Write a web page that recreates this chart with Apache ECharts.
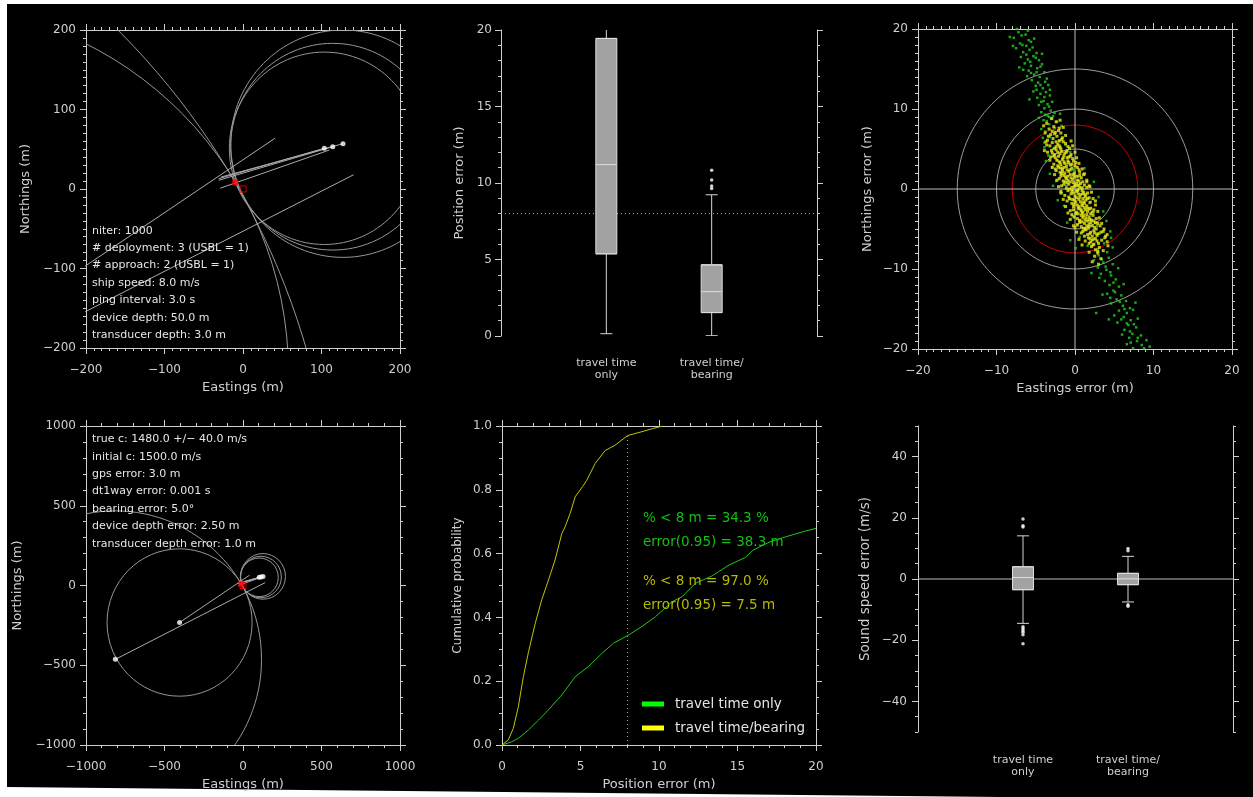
<!DOCTYPE html>
<html><head><meta charset="utf-8">
<script src="https://cdn.jsdelivr.net/npm/echarts@6/dist/echarts.min.js"></script>
<style>html,body{margin:0;padding:0;background:#fff}#c{width:1253px;height:797px}</style>
</head><body><div id="c"></div>
<script>
// ================= DATA =================
// ship (transducer) positions used in the solution, m
const shipE = [103.6, 114.3, 127.4, -404, -813];
const shipN = [51.2, 53.2, 57.0, -232, -463];
// horizontal range circles around each ship position (radius, m)
const rangeR = [121, 130, 143, 462, 931];
// bearing lines [E1, N1, E2, N2]
const bearingLines = [
  [-404, -232, 41, 64],
  [-813, -463, 141, 18],
  [103.6, 51.2, -31, 13],
  [114.3, 53.2, -31, 11],
  [127.4, 57.0, -28, 15],
  [110, 49, -29, 1]
];
const truePos = [0, 0];
const estPos = [-10, 8.4];
const deployText = ['niter: 1000', '# deployment: 3 (USBL = 1)', '# approach: 2 (USBL = 1)',
  'ship speed: 8.0 m/s', 'ping interval: 3.0 s', 'device depth: 50.0 m', 'transducer depth: 3.0 m'];
const errorText = ['true c: 1480.0 +/\u2212 40.0 m/s', 'initial c: 1500.0 m/s', 'gps error: 3.0 m',
  'dt1way error: 0.001 s', 'bearing error: 5.0\u00b0', 'device depth error: 2.50 m', 'transducer depth error: 1.0 m'];

// box plot categories
const boxCats = ['travel time\nonly', 'travel time/\nbearing'];
// position error box plot (m)
const posErrLow = [0.15, 0.02];
const posErrQ1 = [5.37, 1.53];
const posErrMed = [11.2, 2.9];
const posErrQ3 = [19.45, 4.65];
const posErrHigh = [24, 9.23];
const posErrOut = [[], [9.64, 9.81, 10.19, 10.84]];
// sound speed error box plot (m/s)
const ssErrLow = [-14.5, -7.5];
const ssErrQ1 = [-3.5, -1.85];
const ssErrMed = [0.5, 0.05];
const ssErrQ3 = [4.0, 1.85];
const ssErrHigh = [14.1, 7.4];
const ssErrOut = [[19.6, 17.4, 17.0, -15.6, -16.2, -16.8, -17.4, -18.2, -21.2], [10.0, 9.2, -8.4, -8.9]];

// position error scatter (Eastings error, Northings error), m — travel time only
const ttScatter = [
[-6.5,20.1],[-7.2,19.6],[-6.0,19.8],[-7.8,18.9],[-6.8,19.2],[-5.6,18.4],[-7.0,18.2],[-6.2,17.9],[-5.2,18.8],[-7.5,17.6],
[-6.6,17.1],[-5.8,17.4],[-4.9,17.0],[-6.9,16.5],[-6.0,16.2],[-5.3,16.6],[-4.6,16.1],[-6.4,15.7],[-5.6,15.4],[-4.8,15.1],
[-5.9,14.8],[-4.2,15.6],[-5.2,14.3],[-6.1,14.1],[-4.5,14.0],[-3.9,14.6],[-5.5,13.6],[-4.7,13.3],[-3.6,13.8],[-5.0,12.9],
[-4.1,12.6],[-3.4,13.0],[-5.3,12.2],[-4.4,11.9],[-3.7,12.1],[-4.8,11.4],[-3.2,11.7],[-4.0,11.0],[-3.5,10.6],[-4.6,10.5],
[-2.9,10.9],[-3.9,10.1],[-3.1,9.8],[-4.3,9.6],[-2.6,9.5],[-3.5,9.2],[-2.9,8.8],[-4.0,8.6],[-2.3,8.4],[-3.3,8.1],
[-8.3,19.0],[-5.1,20.3],[-4.2,16.9],[-7.1,15.2],[-3.2,12.4],[-5.8,11.2],
[-6.3,19.3],[-7.4,20.0],[-5.9,18.6],[-6.7,18.0],[-7.9,17.9],[-5.4,17.7],[-6.2,16.8],[-5.0,16.4],[-5.7,15.9],[-6.6,14.9],
[-4.4,15.3],[-4.9,14.6],[-5.6,14.5],[-3.8,13.4],[-4.4,13.0],[-4.9,12.4],[-3.9,11.5],[-4.3,10.9],[-3.3,10.3],[-3.8,9.3],
[-2.8,9.1],[-3.6,8.5],
[-2.6,7.6],[-3.8,7.2],[-1.7,7.9],[-3.2,6.5],[-2.0,6.1],[-3.9,5.8],[-1.2,5.5],[-2.8,5.0],[-3.4,4.2],[-0.6,4.6],
[-2.3,3.6],[-1.0,3.1],[-2.9,2.7],[-0.2,2.4],[-1.8,1.9],[0.4,1.5],[-2.4,1.0],[-1.1,0.4],[0.9,0.2],[-1.7,-0.5],
[1.4,-0.8],[-0.6,-1.3],[2.0,-1.6],[-1.4,-2.1],[0.8,-2.5],[2.4,-2.9],[-0.3,-3.4],[1.7,-3.8],[0.3,-4.4],[2.8,-4.6],
[1.1,-5.2],[3.1,-5.6],[0.6,-6.0],[2.2,-6.4],[3.7,-6.8],[1.6,-7.1],[2.9,-7.5],[4.1,-7.9],[-0.6,-6.4],[4.5,-5.3],
[-4.3,7.5],[-4.1,6.4],[-3.9,5.2],[-3.7,3.5],[-3.2,1.9],[-2.8,0.4],[1.2,2.6],[2.4,0.9],[3.0,-1.0],[3.6,-2.8],
[4.0,-4.0],[4.6,-6.1],[4.8,-7.3],[-2.2,-1.4],[-1.0,-4.2],[0.1,-7.4],[-3.3,9.0],[-1.9,9.4],[-4.6,8.9],
[3.0,-8.3],[4.3,-8.6],[2.4,-8.9],[3.6,-9.2],[4.8,-9.4],[2.9,-9.8],[4.0,-10.1],[3.3,-10.6],[4.6,-10.8],[5.2,-11.3],
[3.8,-11.5],[4.4,-12.0],[5.6,-12.2],[4.9,-12.7],[4.1,-13.1],[5.9,-13.3],[5.3,-13.8],[6.5,-14.0],[4.6,-14.3],[6.1,-14.6],
[7.0,-14.9],[5.6,-15.2],[6.6,-15.5],[7.4,-15.1],[6.2,-16.0],[7.1,-16.4],[5.4,-16.7],[6.8,-17.0],[7.8,-17.3],[6.3,-17.6],
[7.3,-18.1],[8.4,-18.3],[6.9,-18.6],[7.9,-19.0],[9.1,-18.9],[6.6,-19.4],[8.5,-19.5],[7.4,-19.9],[9.5,-19.7],[6.0,-18.2],
[3.5,-13.2],[5.0,-15.8],[8.0,-16.2],[2.1,-10.5],[5.5,-9.9],[6.2,-11.9],[4.3,-16.3],[7.7,-14.2],[2.7,-15.5],
[3.4,-8.8],[3.9,-9.7],[4.5,-10.4],[3.1,-11.1],[4.9,-11.7],[5.1,-12.9],[4.5,-13.6],[5.7,-14.1],[6.3,-15.0],[5.9,-16.3],
[6.6,-16.8],[7.5,-16.9],[7.0,-17.8],[8.0,-18.6],[7.1,-19.2],[8.8,-19.9]
];
// travel time/bearing
const tbScatter = [
[-3.0,8.8],[-2.4,8.4],[-3.6,8.2],[-1.9,8.6],
[-2.7,7.8],[-3.3,7.5],[-2.1,7.3],[-1.5,7.7],[-3.8,7.0],[-2.5,7.1],[-1.8,7.0],
[-3.1,6.8],[-2.3,6.6],[-1.6,6.4],[-2.8,6.3],[-3.5,6.1],[-1.2,6.7],[-2.0,6.0],[-2.6,6.9],
[-2.9,5.8],[-2.2,5.6],[-1.5,5.9],[-3.2,5.4],[-0.9,5.3],[-1.9,5.2],[-2.6,5.1],[-1.2,5.7],[-3.6,5.5],
[-2.4,4.9],[-1.7,4.7],[-1.0,4.8],[-2.9,4.5],[-0.5,4.3],[-1.4,4.2],[-2.1,4.1],[-3.1,4.0],[-0.8,4.0],[-1.9,4.4],
[-2.5,3.9],[-1.6,3.7],[-0.9,3.5],[-2.0,3.4],[-0.3,3.8],[-1.3,3.2],[-2.7,3.1],[-0.6,3.0],[-1.8,3.0],[0.1,3.3],
[-2.2,2.9],[-1.1,2.8],[-0.4,2.6],[-1.6,2.5],[0.3,2.7],[-2.4,2.3],[-0.8,2.2],[-1.3,2.0],[0.6,2.1],[-1.9,2.1],[-0.1,2.0],
[-1.7,1.9],[-0.6,1.8],[0.2,1.6],[-1.2,1.5],[-2.0,1.3],[0.8,1.4],[-0.3,1.2],[-0.9,1.1],[0.5,1.0],[-1.5,1.0],[1.1,1.8],
[-1.3,0.9],[-0.2,0.8],[0.7,0.7],[-0.8,0.6],[-1.7,0.4],[0.3,0.4],[1.2,0.5],[-0.4,0.2],[0.9,0.1],[-1.1,0.1],[0.0,0.5],[1.5,0.9],
[-0.9,-0.2],[0.2,-0.3],[1.1,-0.4],[-0.5,-0.6],[0.7,-0.7],[1.6,-0.5],[-1.3,-0.8],[0.0,-0.9],[1.3,-1.0],[0.4,-0.1],[-0.2,-0.5],
[-0.7,-1.2],[0.5,-1.3],[1.4,-1.4],[0.1,-1.6],[1.9,-1.7],[-0.4,-1.8],[0.9,-1.9],[1.6,-1.2],[-1.0,-1.5],[0.3,-2.0],
[-0.2,-2.2],[1.2,-2.3],[0.6,-2.5],[2.0,-2.4],[-0.6,-2.7],[1.6,-2.8],[0.2,-2.9],[2.4,-2.6],[1.0,-2.9],[0.9,-2.1],
[0.4,-3.1],[1.5,-3.2],[2.3,-3.3],[-0.1,-3.5],[1.0,-3.6],[2.7,-3.7],[0.6,-3.9],[1.9,-3.8],[-0.4,-3.2],[1.3,-3.9],
[0.9,-4.1],[2.0,-4.2],[2.9,-4.3],[0.3,-4.5],[1.5,-4.6],[2.5,-4.8],[1.1,-4.9],[3.2,-4.6],[0.6,-4.2],[1.8,-4.4],
[1.4,-5.1],[2.4,-5.2],[3.3,-5.4],[0.8,-5.5],[1.9,-5.6],[2.8,-5.8],[1.2,-5.9],[3.6,-5.3],[2.2,-5.9],
[1.7,-6.1],[2.6,-6.2],[3.4,-6.4],[2.0,-6.6],[3.0,-6.8],[1.3,-6.5],[3.8,-6.1],[2.4,-6.9],
[2.1,-7.2],[3.1,-7.3],[2.6,-7.6],[3.6,-7.7],[1.8,-7.9],[2.9,-8.0],
[2.5,-8.4],[3.3,-8.7],[2.2,-9.1],[3.0,-9.4],
[-4.0,7.9],[-3.9,4.8],[1.9,0.3],[-1.8,-0.3],[2.6,-1.5],[0.0,-4.8],[4.1,-5.7],[4.2,-7.1],
[-2.2,4.6],[-1.3,4.5],[-0.6,4.1],[-2.6,4.3],[-1.0,3.9],[-2.3,3.6],[-1.4,3.4],[-0.2,3.5],[-1.9,3.3],[-0.8,3.3],
[-2.1,2.7],[-1.4,2.7],[-0.6,2.4],[0.0,2.9],[-1.0,2.4],[-1.8,2.6],[0.5,2.4],[-1.4,1.7],[-0.9,1.6],[-0.1,1.5],
[0.6,1.7],[-1.8,1.6],[-0.5,1.4],[0.3,1.1],[-1.1,1.3],[-0.6,0.9],[0.2,0.7],[1.0,0.9],[-1.4,0.6],[-0.1,0.3],
[0.6,0.2],[-0.7,0.0],[1.5,0.2],[0.3,-0.2],[-0.4,-0.3],[0.9,-0.2],[1.3,-0.7],[-0.8,-1.0],[0.4,-0.6],[1.0,-1.2],
[0.2,-1.1],[-0.3,-1.3],[1.8,-1.1],[0.7,-1.6],[1.2,-1.8],[-0.1,-1.9],[1.5,-2.1],[0.4,-2.4],[1.8,-2.5],[-0.2,-2.6],
[0.8,-2.7],[2.2,-2.9],[1.3,-2.6],[0.1,-3.1],[1.1,-3.3],[1.8,-3.5],[0.8,-3.3],[2.1,-3.9],[0.3,-3.7],[1.6,-4.0],
[2.4,-4.0],[1.2,-4.3],[0.8,-4.7],[2.2,-4.6],[1.7,-4.9],[2.7,-5.0],[1.0,-5.3],[2.0,-5.4],[1.6,-5.7],[2.9,-5.6],
[2.3,-6.3],[1.8,-6.8],[-2.9,7.2],[-2.0,7.6],[-2.4,5.9],[-1.7,6.2],[-3.0,4.8],[-2.0,5.4],[-0.7,5.1],
[0.5,3.2],[0.9,2.5],[1.2,1.9],[1.5,1.1],[1.8,0.4],[2.1,-0.4],[2.3,-1.2],[2.6,-2.0],[2.9,-2.8],[3.1,-3.6],
[3.4,-4.3],[3.7,-5.0],[3.9,-5.9],[4.1,-6.6],[0.2,3.9],[0.0,4.6],[-0.3,5.4],[-0.5,6.0],
[-3.4,6.6],[-3.7,5.9],[-3.5,4.6],[-3.2,3.6],[-2.9,2.7],[-2.6,1.8],[-2.3,1.1],[-2.1,0.3],[-1.8,-0.5],[-1.5,-1.3],
[-1.2,-2.2],[-0.9,-3.0],[-0.6,-3.8],[-0.2,-4.6],[0.2,-5.4],[0.5,-6.3],[0.9,-7.0],
[-2.4,5.3],[-1.8,5.0],[-1.1,4.6],[-2.7,4.1],[-1.5,3.9],[-0.4,3.1],[-2.5,2.5],[-1.6,2.2],[-0.2,1.8],[-1.0,0.8],
[0.5,0.5],[-0.3,-0.1],[1.0,-0.6],[0.6,-1.0],[-0.1,-1.4],[1.1,-1.6],[0.5,-2.2],[1.6,-2.4],[0.9,-3.0],[2.0,-3.1],
[1.4,-3.6],[0.6,-4.0],[2.6,-4.2],[1.8,-4.7],[1.3,-5.0],[2.5,-5.5],[1.9,-6.2],[2.8,-6.5],[2.3,-7.0],[2.9,-7.8]
];
// reference error circles (radius, m)
const refRadii = [5, 10, 15];
const thresholdR = 8;

// cumulative distributions of position error
const cdfTTx = [0, 0.62, 1.04, 1.68, 2.32, 2.96, 3.81, 4.66, 5.51, 6.36, 7.1, 8.0, 8.9, 9.77, 10.83, 11.47, 12.32, 13.38, 14.45, 15.5, 16.0, 17.07, 18.1, 19.2, 20];
const cdfTTy = [0, 0.01, 0.021, 0.047, 0.078, 0.11, 0.157, 0.214, 0.246, 0.287, 0.319, 0.343, 0.371, 0.402, 0.449, 0.465, 0.507, 0.53, 0.564, 0.588, 0.611, 0.637, 0.653, 0.669, 0.679];
const cdfTBx = [0, 0.4, 0.72, 1.04, 1.36, 1.68, 2.11, 2.53, 2.96, 3.38, 3.81, 4.02, 4.34, 4.66, 5.13, 5.4, 5.94, 6.57, 7.21, 8.0, 8.9, 9.6, 10.25];
const cdfTBy = [0, 0.016, 0.052, 0.12, 0.214, 0.29, 0.38, 0.455, 0.517, 0.58, 0.663, 0.684, 0.726, 0.778, 0.81, 0.83, 0.883, 0.923, 0.94, 0.970, 0.982, 0.992, 1.0];
const errLimit = 8;
const cdfNotes = [['% < 8 m = 34.3 %', 'error(0.95) = 38.3 m'], ['% < 8 m = 97.0 %', 'error(0.95) = 7.5 m']];
const legendNames = ['travel time only', 'travel time/bearing'];

// ================= CHART =================
const AX = '#cfcfcf';
const FONT = 'DejaVu Sans';
const GREEN = '#1cc81c', YELLOW = '#c4c400';
const fmt = (v, d) => (d == null ? String(v) : v.toFixed(d)).replace('-', '\u2212');
const ls = () => ({color: AX, width: 1});

const grids = [
  {left: 86, top: 30, width: 314, height: 318},
  {left: 501, top: 30, width: 316, height: 306},
  {left: 918, top: 29, width: 314, height: 320},
  {left: 86, top: 426, width: 314, height: 319},
  {left: 502, top: 426, width: 314, height: 319},
  {left: 918, top: 426, width: 315, height: 306}
];
const xAxes = [], yAxes = [];
const base = {type: 'value', splitLine: {show: false}, minorSplitLine: {show: false}};
function addX(o) { xAxes.push(Object.assign({}, base, o)); return xAxes.length - 1; }
function addY(o) { yAxes.push(Object.assign({}, base, o)); return yAxes.length - 1; }
function nameSt(fs) { return {color: AX, fontFamily: FONT, fontSize: fs}; }
function scale(r) {
  return {min: r[0], max: r[1], interval: r[2],
    axisLine: {show: true, onZero: false, lineStyle: ls()},
    axisTick: {show: true, length: 6, lineStyle: ls()},
    minorTick: {show: true, splitNumber: r[3], length: 3, lineStyle: ls()}};
}
function framed(g, xr, yr, xName, yName, yGap, yFs) {
  const xb = addX(Object.assign(scale(xr), {gridIndex: g, position: 'bottom', name: xName, nameLocation: 'middle', nameGap: 33,
    nameTextStyle: nameSt(13), axisLabel: {color: AX, fontFamily: FONT, fontSize: 12, margin: 16, formatter: v => fmt(v, xr[4])}}));
  addX(Object.assign(scale(xr), {gridIndex: g, position: 'top', axisLabel: {show: false}}));
  const yl = addY(Object.assign(scale(yr), {gridIndex: g, position: 'left', name: yName, nameLocation: 'middle', nameRotate: 90, nameGap: yGap,
    nameTextStyle: nameSt(yFs || 13), axisLabel: {color: AX, fontFamily: FONT, fontSize: 12, margin: 10, formatter: v => fmt(v, yr[4])}}));
  addY(Object.assign(scale(yr), {gridIndex: g, position: 'right', axisLabel: {show: false}}));
  return [xb, yl];
}
function catAxis(g, margin) {
  return addX({gridIndex: g, position: 'bottom', min: 0, max: 3, interval: 1, axisLine: {show: false}, axisTick: {show: false},
    minorTick: {show: false}, axisLabel: {color: AX, fontFamily: FONT, fontSize: 11, lineHeight: 12, margin: margin,
    formatter: v => boxCats[v - 1] || ''}});
}

// axes
const A0 = framed(0, [-200, 200, 100, 10], [-200, 200, 100, 10], 'Eastings (m)', 'Northings (m)', 54);
const A2 = framed(2, [-20, 20, 10, 10], [-20, 20, 10, 10], 'Eastings error (m)', 'Northings error (m)', 44);
const A3 = framed(3, [-1000, 1000, 500, 5], [-1000, 1000, 500, 5], 'Eastings (m)', 'Northings (m)', 62);
const A4 = framed(4, [0, 20, 5, 5], [0, 1, 0.2, 4, 1], 'Position error (m)', 'Cumulative probability', 38, 12);
// box plot panel 1
const x1 = catAxis(1, 21);
const y1 = addY(Object.assign(scale([0, 20, 5, 5]), {gridIndex: 1, position: 'left', name: 'Position error (m)', nameLocation: 'middle',
  nameRotate: 90, nameGap: 35, nameTextStyle: nameSt(13), axisLabel: {color: AX, fontFamily: FONT, fontSize: 12, margin: 9}}));
addY(Object.assign(scale([0, 20, 5, 5]), {gridIndex: 1, position: 'right', axisLabel: {show: false}}));
// box plot panel 2
const x5 = catAxis(5, 22);
const majorSS = [-40, -20, 0, 20, 40];
function ssAxis(pos, withLabel) {
  const o = {gridIndex: 5, position: pos, min: -50, max: 50, interval: 10,
    axisLine: {show: true, onZero: false, lineStyle: ls()},
    axisTick: {show: true, length: 6, customValues: majorSS, lineStyle: ls()},
    minorTick: {show: false},
    axisLabel: withLabel ? {color: AX, fontFamily: FONT, fontSize: 12, margin: 11,
      formatter: v => (majorSS.indexOf(v) >= 0 ? fmt(v) : '')} : {show: false}};
  if (withLabel) Object.assign(o, {name: 'Sound speed error (m/s)', nameLocation: 'middle', nameRotate: 90, nameGap: 46, nameTextStyle: nameSt(13.5)});
  const idx = addY(o);
  addY({gridIndex: 5, position: pos, min: -50, max: 50, interval: 5, axisLine: {show: false, onZero: false},
    axisTick: {show: true, length: 3, lineStyle: ls()}, axisLabel: {show: false}});
  return idx;
}
const y5 = ssAxis('left', true);
ssAxis('right', false);

// renderers
function clipRect(params) { const c = params.coordSys; return {type: 'rect', shape: {x: c.x, y: c.y, width: c.width, height: c.height}}; }
function circleRenderer(color) {
  return function (params, api) {
    const c = api.coord([api.value(0), api.value(1)]);
    const s = api.size([api.value(2), api.value(2)]);
    return {type: 'group', clipPath: clipRect(params), children: [
      {type: 'ellipse', shape: {cx: c[0], cy: c[1], rx: s[0], ry: s[1]}, style: {fill: 'none', stroke: color, lineWidth: 1}}]};
  };
}
function whiskerRenderer(params, api) {
  const x = api.value(0);
  const p = [1, 2, 3, 4].map(i => api.coord([x, api.value(i)]));
  const hw = 6;
  const L = (a, b, c, d) => ({type: 'line', shape: {x1: a, y1: b, x2: c, y2: d}, style: {stroke: '#d6d6d6', lineWidth: 1}});
  return {type: 'group', clipPath: clipRect(params), children: [
    L(p[0][0], p[0][1], p[1][0], p[1][1]), L(p[2][0], p[2][1], p[3][0], p[3][1]),
    L(p[0][0] - hw, p[0][1], p[0][0] + hw, p[0][1]), L(p[3][0] - hw, p[3][1], p[3][0] + hw, p[3][1])]};
}

const series = [];
function geom(ax) {
  const [xi, yi] = ax;
  series.push({type: 'custom', xAxisIndex: xi, yAxisIndex: yi, silent: true, clip: true, z: 2,
    data: rangeR.map((r, i) => [shipE[i], shipN[i], r]), encode: {x: 0, y: 1}, renderItem: circleRenderer('#969696')});
  bearingLines.forEach(l => series.push({type: 'line', xAxisIndex: xi, yAxisIndex: yi, silent: true, z: 3,
    data: [[l[0], l[1]], [l[2], l[3]]], showSymbol: false, symbol: 'none', lineStyle: {color: '#ababab', width: 1}}));
  series.push({type: 'scatter', xAxisIndex: xi, yAxisIndex: yi, silent: true, z: 5, symbol: 'circle', symbolSize: 5,
    data: shipE.map((e, i) => [e, shipN[i]]), itemStyle: {color: '#ffffff'}});
  series.push({type: 'scatter', xAxisIndex: xi, yAxisIndex: yi, silent: true, z: 6, symbol: 'rect', symbolSize: 6,
    data: [estPos], itemStyle: {color: '#ff0000'}});
  series.push({type: 'scatter', xAxisIndex: xi, yAxisIndex: yi, silent: true, z: 6, symbol: 'rect', symbolSize: 6,
    data: [truePos], itemStyle: {color: 'rgba(0,0,0,0)', borderColor: '#ff0000', borderWidth: 1}});
}
geom(A0);
geom(A3);

// scatter panel
series.push({type: 'custom', xAxisIndex: A2[0], yAxisIndex: A2[1], silent: true, clip: true, z: 2,
  data: refRadii.map(r => [0, 0, r]), encode: {x: 0, y: 1}, renderItem: circleRenderer('#9c9c9c')});
series.push({type: 'custom', xAxisIndex: A2[0], yAxisIndex: A2[1], silent: true, clip: true, z: 2,
  data: [[0, 0, thresholdR]], encode: {x: 0, y: 1}, renderItem: circleRenderer('#c80000')});
series.push({type: 'line', xAxisIndex: A2[0], yAxisIndex: A2[1], silent: true, z: 2, showSymbol: false, symbol: 'none',
  data: [[-20, 0], [20, 0]], lineStyle: {color: '#bdbdbd', width: 1}});
series.push({type: 'line', xAxisIndex: A2[0], yAxisIndex: A2[1], silent: true, z: 2, showSymbol: false, symbol: 'none',
  data: [[0, -20], [0, 20]], lineStyle: {color: '#bdbdbd', width: 1}});
series.push({type: 'scatter', xAxisIndex: A2[0], yAxisIndex: A2[1], silent: true, z: 4, symbol: 'rect', symbolSize: 2.5,
  data: ttScatter, itemStyle: {color: '#22d022'}});
series.push({type: 'scatter', xAxisIndex: A2[0], yAxisIndex: A2[1], silent: true, z: 5, symbol: 'rect', symbolSize: 3,
  data: tbScatter, itemStyle: {color: '#e8e81c'}});

// CDF panel
series.push({name: legendNames[0], type: 'line', xAxisIndex: A4[0], yAxisIndex: A4[1], silent: true, z: 3, showSymbol: false, symbol: 'none',
  data: cdfTTx.map((x, i) => [x, cdfTTy[i]]), lineStyle: {color: GREEN, width: 1}, itemStyle: {color: '#00ff00'}});
series.push({name: legendNames[1], type: 'line', xAxisIndex: A4[0], yAxisIndex: A4[1], silent: true, z: 3, showSymbol: false, symbol: 'none',
  data: cdfTBx.map((x, i) => [x, cdfTBy[i]]), lineStyle: {color: YELLOW, width: 1}, itemStyle: {color: '#ffff00'}});
series.push({type: 'line', xAxisIndex: A4[0], yAxisIndex: A4[1], silent: true, z: 2, showSymbol: false, symbol: 'none',
  data: [[errLimit, 0], [errLimit, cdfTBy[cdfTBx.indexOf(errLimit)]]], lineStyle: {color: '#a8a8a8', width: 1, type: [1, 3]}});

// position error box plot
series.push({type: 'line', xAxisIndex: x1, yAxisIndex: y1, silent: true, z: 2, showSymbol: false, symbol: 'none',
  data: [[0, errLimit], [3, errLimit]], lineStyle: {color: '#a8a8a8', width: 1, type: [1, 3]}});
function boxSeries(xi, yi, low, q1, med, q3, high, out) {
  series.push({type: 'custom', xAxisIndex: xi, yAxisIndex: yi, silent: true, clip: true, z: 3,
    data: low.map((l, i) => [i + 1, l, q1[i], q3[i], high[i]]), encode: {x: 0, y: [1, 2, 3, 4]}, renderItem: whiskerRenderer});
  series.push({type: 'boxplot', xAxisIndex: xi, yAxisIndex: yi, silent: true, z: 4, boxWidth: [21, 21],
    data: q1.map((q, i) => [i + 1, q, q, med[i], q3[i], q3[i]]),
    itemStyle: {color: '#a2a2a2', borderColor: '#dedede', borderWidth: 1}});
  const pts = [];
  out.forEach((arr, i) => arr.forEach(v => pts.push([i + 1, v])));
  series.push({type: 'scatter', xAxisIndex: xi, yAxisIndex: yi, silent: true, z: 5, symbol: 'circle', symbolSize: 3.5,
    data: pts, itemStyle: {color: '#ffffff'}});
}
boxSeries(x1, y1, posErrLow, posErrQ1, posErrMed, posErrQ3, posErrHigh, posErrOut);
series.push({type: 'line', xAxisIndex: x5, yAxisIndex: y5, silent: true, z: 2, showSymbol: false, symbol: 'none',
  data: [[0, 0], [3, 0]], lineStyle: {color: '#bdbdbd', width: 1}});
boxSeries(x5, y5, ssErrLow, ssErrQ1, ssErrMed, ssErrQ3, ssErrHigh, ssErrOut);

const textFont = '11px "DejaVu Sans"';
const option = {
  backgroundColor: '#ffffff',
  animation: false,
  textStyle: {fontFamily: FONT},
  grid: grids.map(g => Object.assign({show: false, containLabel: false, outerBoundsMode: 'none'}, g)),
  xAxis: xAxes,
  yAxis: yAxes,
  legend: {left: 637, top: 691, orient: 'vertical', icon: 'rect', itemWidth: 22, itemHeight: 5, itemGap: 8, selectedMode: false,
    textStyle: {color: '#e4e4e4', fontFamily: FONT, fontSize: 13.5, lineHeight: 16, padding: [0, 0, 0, 6]},
    data: [{name: legendNames[0], itemStyle: {color: '#00ff00', borderWidth: 0}},
           {name: legendNames[1], itemStyle: {color: '#ffff00', borderWidth: 0}}]},
  graphic: [
    {type: 'polygon', z: -10, silent: true, shape: {points: [[7, 4], [1253, 4], [1253, 797], [1000, 797], [7, 787]]}, style: {fill: '#000000'}},
    {type: 'text', z: 10, x: 92, y: 222, style: {text: deployText.join('\n'), fill: '#e6e6e6', font: textFont, lineHeight: 17.4, verticalAlign: 'top'}},
    {type: 'text', z: 10, x: 92, y: 430.6, style: {text: errorText.join('\n'), fill: '#e6e6e6', font: textFont, lineHeight: 17.4, verticalAlign: 'top'}},
    {type: 'text', z: 10, x: 643, y: 506.3, style: {text: cdfNotes[0].join('\n'), fill: '#14be14', font: '13.5px "DejaVu Sans"', lineHeight: 24, verticalAlign: 'top'}},
    {type: 'text', z: 10, x: 643, y: 569.7, style: {text: cdfNotes[1].join('\n'), fill: '#b8b800', font: '13.5px "DejaVu Sans"', lineHeight: 24, verticalAlign: 'top'}}
  ],
  series: series
};
const chart = echarts.init(document.getElementById('c'), null, {renderer: 'canvas'});
chart.setOption(option);
</script>
</body></html>
